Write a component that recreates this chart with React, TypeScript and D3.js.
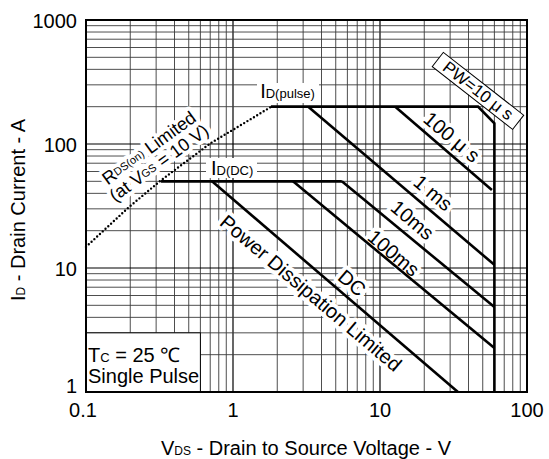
import { useEffect, useRef } from 'react';
import * as d3 from 'd3';

const width = 549;
const height = 459;

// axis decades and labels
const xTicks = [0.1, 1, 10, 100];
const xTickLabels = ['0.1', '1', '10', '100'];
const yTicks = [1, 10, 100, 1000];
const yTickLabels = ['1', '10', '100', '1000'];

// RDS(on) limited boundary (dotted)
const rdsV = [0.1, 0.196, 0.324, 0.708, 1.13, 1.81];
const rdsI = [14.8, 31, 51, 102, 142, 199];

// ID(pulse) limit, corner bevel and VDSS wall
const pulseV = [1.81, 46.4, 60, 60];
const pulseI = [200, 200, 147, 1];

// ID(DC) limit
const dcLimV = [0.324, 5.5];
const dcLimI = [50, 50];

// constant-power lines for each pulse width
const pwStartV = [12.7, 3.25, 5.5, 2.56, 0.72];
const pwStartI = [200, 200, 50, 50, 50];
const pwEndV = [57.7, 60, 60, 60, 33.9];
const pwEndI = [42.6, 10.6, 4.84, 2.26, 1];

const FONT = '"Liberation Sans", Arial, Helvetica, sans-serif';

type Part = [string, number];

export default function App() {
  const svgRef = useRef<SVGSVGElement>(null);

  useEffect(() => {
    if (!svgRef.current) return;
    const svg = d3.select(svgRef.current);
    svg.selectAll('*').remove();

    const pad = { top: 20, right: 22, bottom: 67, left: 86 };
    const x = d3.scaleLog().domain([0.1, 100]).range([pad.left, width - pad.right]);
    const y = d3.scaleLog().domain([1, 1000]).range([height - pad.bottom, pad.top]);
    const [x0, x1] = x.range();
    const [y0, y1] = y.range();

    const line = d3
      .line<[number, number]>()
      .x((d) => x(d[0]))
      .y((d) => y(d[1]));

    // layers: grid < white patches/halos < curves < text
    const grid = svg.append('g');
    const haloLayer = svg.append('g');
    const curves = svg.append('g').attr('fill', 'none').attr('stroke', '#000');
    const textLayer = svg.append('g');

    // ── grid ──
    const minors = (lo: number, hi: number) => {
      const out: number[] = [];
      for (let dec = lo; dec < hi; dec *= 10) for (let k = 1; k < 10; k++) out.push(dec * k);
      out.push(hi);
      return out;
    };
    const isMajor = (v: number) => Math.abs(Math.log10(v) - Math.round(Math.log10(v))) < 1e-6;
    minors(0.1, 100).forEach((v) => {
      grid
        .append('line')
        .attr('x1', x(v))
        .attr('x2', x(v))
        .attr('y1', y1)
        .attr('y2', y0)
        .attr('stroke', isMajor(v) ? '#000' : '#3a3a3a')
        .attr('stroke-width', isMajor(v) ? 1.2 : 0.9);
    });
    minors(1, 1000).forEach((v) => {
      grid
        .append('line')
        .attr('x1', x0)
        .attr('x2', x1)
        .attr('y1', y(v))
        .attr('y2', y(v))
        .attr('stroke', isMajor(v) ? '#000' : '#3a3a3a')
        .attr('stroke-width', isMajor(v) ? 1.2 : 0.9);
    });

    // text helper: parts of [text, fontSize]; halo copy goes under the curves
    const addText = (
      px: number,
      py: number,
      angle: number,
      parts: Part[],
      anchor = 'middle',
      halo = false,
      baseline = 'auto',
    ) => {
      const make = (layer: d3.Selection<SVGGElement, unknown, null, undefined>) => {
        const t = layer
          .append('text')
          .attr('transform', `translate(${px},${py}) rotate(${angle})`)
          .attr('text-anchor', anchor)
          .attr('dominant-baseline', baseline)
          .attr('font-family', FONT)
          .attr('fill', '#000');
        parts.forEach(([s, fs]) => {
          t.append('tspan').attr('font-size', fs).text(s);
        });
        return t;
      };
      if (halo) {
        make(haloLayer)
          .attr('fill', '#fff')
          .attr('stroke', '#fff')
          .attr('stroke-width', 8)
          .attr('stroke-linejoin', 'round');
      }
      return make(textLayer);
    };

    // ── white label patches ──
    haloLayer.append('rect').attr('x', 257).attr('y', 83).attr('width', 62).attr('height', 20).attr('fill', '#fff');
    haloLayer.append('rect').attr('x', 206).attr('y', 158).attr('width', 51).attr('height', 20).attr('fill', '#fff');

    // Tc box
    haloLayer
      .append('rect')
      .attr('x', x(0.1))
      .attr('y', y(3))
      .attr('width', x(0.6) - x(0.1))
      .attr('height', y(1) - y(3))
      .attr('fill', '#fff')
      .attr('stroke', '#000')
      .attr('stroke-width', 1);
    addText(x(0.1) + 2, 362, 0, [['T', 20], ['C', 13], [' = 25 ℃', 20]], 'start');
    addText(x(0.1) + 2, 383, 0, [['Single Pulse', 20]], 'start');

    // ── curves ──
    curves
      .append('path')
      .attr('d', line(rdsV.map((v, i) => [v, rdsI[i]] as [number, number])))
      .attr('stroke-width', 2.4)
      .attr('stroke-linecap', 'round')
      .attr('stroke-dasharray', '0 3.8');
    curves
      .append('path')
      .attr('d', line(pulseV.map((v, i) => [v, pulseI[i]] as [number, number])))
      .attr('stroke-width', 2.6);
    curves
      .append('path')
      .attr('d', line(dcLimV.map((v, i) => [v, dcLimI[i]] as [number, number])))
      .attr('stroke-width', 2.6);
    pwStartV.forEach((v, i) => {
      curves
        .append('path')
        .attr('d', line([[v, pwStartI[i]], [pwEndV[i], pwEndI[i]]]))
        .attr('stroke-width', 2.6);
    });

    // ── annotations ──
    const slope = (Math.atan2(y(1) - y(10), x(10) - x(1)) * 180) / Math.PI;
    addText(x(1.53), 98, 0, [['I', 20], ['D(pulse)', 13]], 'start');
    addText(x(0.708), 175, 0, [['I', 20], ['D(DC)', 13]], 'start');

    addText(149, 148, -36, [['R', 18], ['DS(on)', 11], [' Limited', 18]], 'middle', true, 'central');
    addText(159, 163, -36, [['(at V', 18], ['GS', 11], [' = 10 V)', 18]], 'middle', true, 'central');

    addText(x(3.39), y(6.28), slope, [['Power Dissipation Limited', 20]], 'middle', true, 'central');
    addText(x(6.46), y(7.57), slope, [['DC', 20]], 'middle', true, 'central');
    addText(x(12.4), y(13.2), slope, [['100ms', 20]], 'middle', true, 'central');
    addText(x(16.6), y(24.4), slope, [['10ms', 20]], 'middle', true, 'central');
    addText(x(23), y(40.3), slope, [['1 ms', 20]], 'middle', true, 'central');
    addText(x(30.8), y(114), slope, [['100 μ s', 20]], 'middle', true, 'central');

    // PW=10us boxed label
    const pw = textLayer.append('g').attr('transform', `translate(${x(46.4)},${y(268)}) rotate(38)`);
    pw.append('rect')
      .attr('x', -51)
      .attr('y', -9)
      .attr('width', 102)
      .attr('height', 18)
      .attr('fill', '#fff')
      .attr('stroke', '#000')
      .attr('stroke-width', 1);
    pw.append('text')
      .attr('text-anchor', 'middle')
      .attr('dominant-baseline', 'central')
      .attr('font-family', FONT)
      .attr('font-size', 17)
      .text('PW=10 μ s');

    // ── frame ──
    textLayer
      .append('rect')
      .attr('x', x0)
      .attr('y', y1)
      .attr('width', x1 - x0)
      .attr('height', y0 - y1)
      .attr('fill', 'none')
      .attr('stroke', '#000')
      .attr('stroke-width', 2);

    // ── tick labels ──
    xTicks.forEach((v, i) => {
      addText(x(v) - (i === 0 ? 3 : 0), 417, 0, [[xTickLabels[i], 20]]);
    });
    yTicks.forEach((v, i) => {
      addText(77, Math.min(y(v) + 1, 386), 0, [[yTickLabels[i], 20]], 'end', false, 'central');
    });

    // ── axis titles ──
    addText(306, 455, 0, [['V', 20], ['DS', 12], [' - Drain to Source Voltage - V', 20]]);
    addText(25, 210, -90, [['I', 20], ['D', 12], [' -  Drain Current - A', 20]]);
  }, []);

  return (
    <svg
      ref={svgRef}
      width={width}
      height={height}
      style={{ position: 'absolute', left: 0, top: 0, background: '#fff' }}
    />
  );
}
